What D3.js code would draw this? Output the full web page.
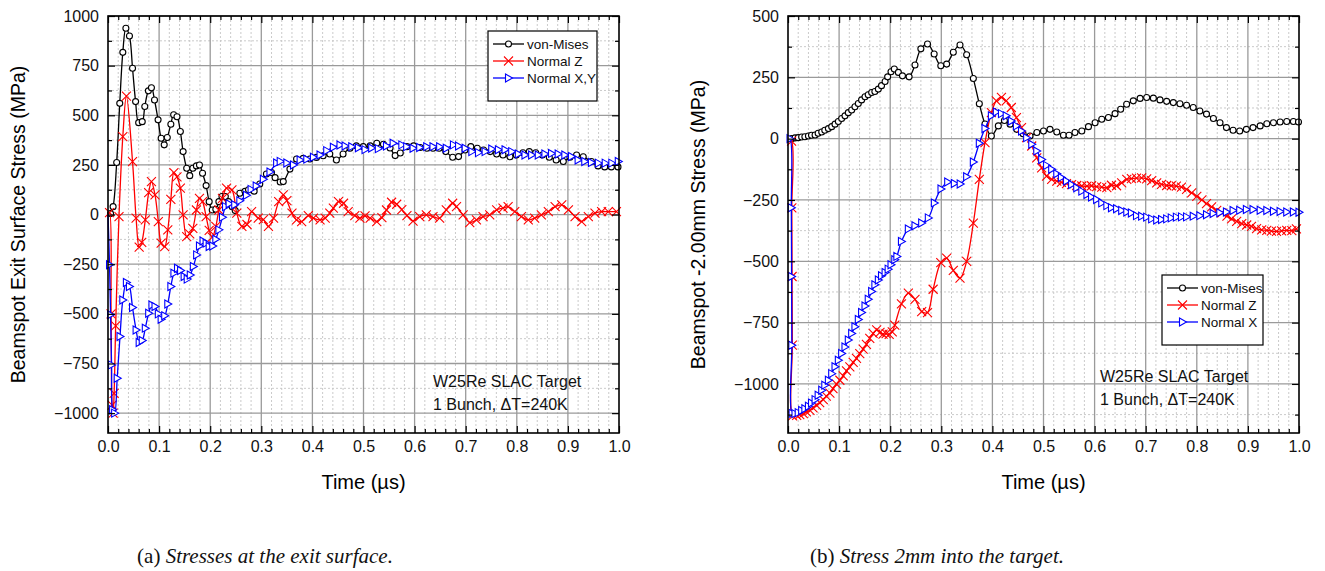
<!DOCTYPE html>
<html>
<head>
<meta charset="utf-8">
<script src="https://cdn.jsdelivr.net/npm/d3@7"></script>
<style>
  body { margin: 0; background: #fff; }
  svg { display: block; }
</style>
</head>
<body>
<svg id="fig" width="1325" height="571"></svg>
<script>
// ---- data: [time in us, stress in MPa] ----
const xTicks = [0, 0.1, 0.2, 0.3, 0.4, 0.5, 0.6, 0.7, 0.8, 0.9, 1.0];
const leftYTicks = [-1000, -750, -500, -250, 0, 250, 500, 750, 1000];
const rightYTicks = [-1000, -750, -500, -250, 0, 250, 500];

const leftVonMises = [[0,0],[0.005,5],[0.010,40],[0.017,262],[0.023,560],[0.029,817],[0.035,938],[0.042,899],[0.048,737],[0.054,569],[0.060,463],[0.067,468],[0.072,544],[0.079,623],[0.085,639],[0.091,577],[0.098,477],[0.104,384],[0.110,351],[0.116,388],[0.123,455],[0.1285,503],[0.135,493],[0.1416,418],[0.147,317],[0.154,233],[0.160,196],[0.166,233],[0.173,245],[0.179,250],[0.185,208],[0.192,146],[0.198,65],[0.204,23],[0.211,27],[0.217,65],[0.223,91],[0.2296,91],[0.236,65],[0.243,40],[0.249,20],[0.258,107],[0.268,117],[0.275,125],[0.286,118],[0.297,154],[0.310,204],[0.320,212],[0.327,186],[0.337,164],[0.343,166],[0.356,229],[0.369,280],[0.382,283],[0.395,280],[0.408,288],[0.421,296],[0.434,305],[0.447,275],[0.460,305],[0.4735,334],[0.486,346],[0.4995,342],[0.513,346],[0.526,359],[0.539,354],[0.552,335],[0.562,297],[0.572,310],[0.585,342],[0.598,346],[0.611,338],[0.624,334],[0.636,334],[0.648,334],[0.661,317],[0.6745,289],[0.686,292],[0.6986,325],[0.71,342],[0.7227,334],[0.735,325],[0.748,317],[0.7606,305],[0.773,300],[0.7867,291],[0.799,300],[0.812,311],[0.8245,317],[0.837,311],[0.85,300],[0.8636,289],[0.877,275],[0.891,267],[0.904,289],[0.917,300],[0.930,291],[0.946,267],[0.959,245],[0.972,240],[0.985,240],[0.998,240]];

const leftNormalZ = [[0,0],[0.003,10],[0.006,-500],[0.008,-960],[0.010,-1000],[0.012,-900],[0.015,-560],[0.0215,-10],[0.029,393],[0.036,597],[0.048,267],[0.055,-18],[0.061,-164],[0.066,-140],[0.073,-27],[0.0796,111],[0.085,166],[0.092,99],[0.0985,-35],[0.104,-144],[0.111,-161],[0.117,-77],[0.123,77],[0.129,211],[0.135,190],[0.1416,133],[0.147,-2],[0.154,-111],[0.160,-97],[0.166,-69],[0.173,23],[0.179,82],[0.185,65],[0.192,-10],[0.198,-80],[0.204,-114],[0.211,-60],[0.217,23],[0.224,82],[0.232,133],[0.2425,124],[0.252,7],[0.262,-60],[0.272,-50],[0.281,15],[0.294,-18],[0.304,-25],[0.314,-60],[0.324,-18],[0.334,65],[0.343,99],[0.350,70],[0.36,7],[0.369,-27],[0.379,-35],[0.392,-5],[0.402,-18],[0.415,-27],[0.425,-18],[0.434,7],[0.441,32],[0.451,65],[0.461,57],[0.470,15],[0.483,-5],[0.493,-18],[0.503,-7],[0.513,-18],[0.526,-35],[0.536,-15],[0.545,23],[0.555,62],[0.565,52],[0.575,25],[0.585,-5],[0.597,-33],[0.610,-10],[0.623,-2],[0.636,-10],[0.649,-18],[0.662,24],[0.6745,57],[0.682,40],[0.695,-2],[0.708,-40],[0.721,-27],[0.734,-10],[0.747,-2],[0.7606,24],[0.773,32],[0.783,40],[0.796,15],[0.809,-10],[0.8225,-27],[0.835,-18],[0.848,-2],[0.8617,15],[0.875,40],[0.888,49],[0.901,24],[0.914,-10],[0.927,-35],[0.940,-10],[0.953,7],[0.966,15],[0.979,15],[0.995,15]];

const leftNormalXY = [[0,0],[0.003,-253],[0.005,-505],[0.007,-757],[0.009,-983],[0.013,-1000],[0.018,-824],[0.0235,-614],[0.029,-430],[0.036,-342],[0.042,-362],[0.048,-468],[0.055,-581],[0.061,-644],[0.067,-634],[0.073,-572],[0.0796,-497],[0.086,-455],[0.092,-463],[0.0985,-500],[0.104,-527],[0.111,-510],[0.117,-450],[0.123,-362],[0.129,-295],[0.136,-270],[0.142,-282],[0.149,-312],[0.155,-325],[0.161,-304],[0.167,-262],[0.1735,-203],[0.179,-158],[0.186,-133],[0.192,-144],[0.198,-161],[0.205,-158],[0.211,-124],[0.217,-77],[0.224,-13],[0.230,40],[0.237,54],[0.248,49],[0.258,70],[0.271,97],[0.280,127],[0.290,144],[0.304,178],[0.317,214],[0.330,260],[0.337,268],[0.350,260],[0.363,250],[0.376,275],[0.389,279],[0.402,289],[0.415,300],[0.428,322],[0.441,339],[0.454,350],[0.464,345],[0.477,342],[0.490,336],[0.503,327],[0.516,335],[0.529,332],[0.545,345],[0.558,359],[0.575,351],[0.5845,342],[0.597,334],[0.610,338],[0.6237,342],[0.636,342],[0.649,342],[0.662,334],[0.676,351],[0.686,345],[0.699,334],[0.712,317],[0.725,312],[0.738,317],[0.751,330],[0.764,326],[0.777,326],[0.790,317],[0.803,305],[0.816,300],[0.829,300],[0.842,300],[0.855,305],[0.868,308],[0.881,305],[0.894,300],[0.907,292],[0.920,275],[0.933,267],[0.946,262],[0.9596,259],[0.973,259],[0.986,259],[0.9986,267]];

const rightVonMises = [[0,0],[0.007,0],[0.0137,3],[0.020,4],[0.0267,7],[0.033,8],[0.040,11],[0.046,14],[0.053,15],[0.059,22],[0.066,27],[0.072,34],[0.079,41],[0.0855,49],[0.092,59],[0.0985,70],[0.105,82],[0.1115,93],[0.118,106],[0.1246,117],[0.131,130],[0.1376,143],[0.144,158],[0.1507,171],[0.157,179],[0.1637,188],[0.170,192],[0.1768,202],[0.183,216],[0.190,233],[0.195,252],[0.2016,273],[0.208,284],[0.216,270],[0.224,256],[0.237,252],[0.2485,300],[0.260,366],[0.273,386],[0.286,345],[0.299,297],[0.3105,304],[0.3235,352],[0.3366,382],[0.3496,342],[0.3627,245],[0.3744,142],[0.3855,60],[0.398,11],[0.4116,52],[0.4235,74],[0.4346,59],[0.4475,38],[0.460,20],[0.4736,11],[0.487,25],[0.50,31],[0.5127,38],[0.526,27],[0.539,14],[0.550,14],[0.5616,25],[0.575,31],[0.588,49],[0.601,65],[0.614,79],[0.627,86],[0.640,102],[0.651,120],[0.6627,140],[0.6757,154],[0.689,164],[0.7019,168],[0.715,165],[0.728,158],[0.741,152],[0.754,147],[0.767,142],[0.780,136],[0.793,127],[0.806,113],[0.819,100],[0.8325,82],[0.8454,65],[0.858,45],[0.871,34],[0.884,31],[0.897,38],[0.910,45],[0.924,52],[0.937,61],[0.950,65],[0.963,68],[0.976,70],[0.989,70],[0.999,68]];

const rightNormalZ = [[0,0],[0.007,-10],[0.0075,-282],[0.008,-562],[0.0085,-842],[0.009,-1130],[0.017,-1128],[0.023,-1125],[0.030,-1121],[0.036,-1114],[0.043,-1108],[0.049,-1098],[0.056,-1087],[0.062,-1076],[0.069,-1064],[0.075,-1050],[0.082,-1037],[0.088,-1019],[0.095,-1001],[0.1015,-985],[0.108,-967],[0.1145,-947],[0.121,-930],[0.1275,-912],[0.134,-896],[0.1405,-876],[0.147,-858],[0.1535,-839],[0.160,-814],[0.1665,-794],[0.1735,-780],[0.18,-790],[0.186,-797],[0.192,-795],[0.198,-798],[0.204,-788],[0.209,-760],[0.222,-674],[0.2355,-630],[0.2485,-655],[0.2616,-705],[0.273,-709],[0.284,-614],[0.299,-505],[0.3105,-487],[0.3235,-537],[0.3366,-569],[0.3496,-500],[0.3627,-344],[0.3744,-166],[0.3855,-16],[0.398,106],[0.4077,154],[0.4177,168],[0.427,154],[0.437,127],[0.447,86],[0.457,45],[0.467,4],[0.477,-30],[0.4868,-78],[0.4964,-119],[0.506,-153],[0.516,-166],[0.526,-173],[0.535,-178],[0.545,-183],[0.555,-187],[0.565,-191],[0.575,-193],[0.585,-194],[0.594,-192],[0.604,-196],[0.614,-198],[0.624,-200],[0.633,-190],[0.643,-192],[0.653,-180],[0.663,-166],[0.672,-163],[0.682,-161],[0.692,-160],[0.7019,-164],[0.7117,-171],[0.7215,-180],[0.731,-186],[0.741,-191],[0.750,-192],[0.760,-194],[0.770,-198],[0.780,-207],[0.790,-221],[0.800,-235],[0.810,-250],[0.819,-265],[0.829,-278],[0.839,-292],[0.849,-303],[0.859,-316],[0.868,-327],[0.878,-337],[0.888,-346],[0.8977,-352],[0.907,-358],[0.917,-367],[0.927,-372],[0.937,-374],[0.946,-377],[0.956,-378],[0.966,-376],[0.976,-374],[0.986,-375],[0.995,-368]];

const rightNormalX = [[0,0],[0.004,0],[0.0065,-282],[0.007,-562],[0.0075,-842],[0.008,-1120],[0.0137,-1121],[0.020,-1117],[0.0267,-1108],[0.033,-1101],[0.040,-1091],[0.046,-1078],[0.053,-1064],[0.059,-1046],[0.066,-1026],[0.072,-1005],[0.079,-985],[0.0855,-958],[0.092,-930],[0.0985,-903],[0.105,-876],[0.1115,-849],[0.118,-821],[0.1246,-794],[0.131,-767],[0.1376,-737],[0.144,-709],[0.1507,-682],[0.157,-655],[0.1637,-623],[0.170,-596],[0.1768,-576],[0.183,-559],[0.190,-546],[0.196,-532],[0.2016,-514],[0.209,-494],[0.213,-480],[0.222,-419],[0.2355,-368],[0.2485,-355],[0.2616,-344],[0.2746,-323],[0.2864,-262],[0.2994,-205],[0.3125,-177],[0.3255,-183],[0.337,-185],[0.3496,-155],[0.3627,-95],[0.3744,-19],[0.3855,41],[0.398,93],[0.4077,109],[0.4177,102],[0.427,93],[0.437,72],[0.447,52],[0.457,31],[0.467,4],[0.477,-23],[0.4868,-50],[0.4964,-85],[0.506,-109],[0.516,-125],[0.526,-143],[0.535,-158],[0.545,-173],[0.555,-187],[0.565,-200],[0.575,-214],[0.585,-228],[0.594,-238],[0.604,-248],[0.614,-262],[0.624,-273],[0.633,-282],[0.643,-286],[0.653,-293],[0.663,-299],[0.672,-303],[0.682,-314],[0.692,-316],[0.7019,-320],[0.7117,-327],[0.7215,-332],[0.731,-330],[0.741,-327],[0.750,-323],[0.760,-320],[0.770,-319],[0.780,-319],[0.793,-316],[0.806,-314],[0.819,-310],[0.832,-305],[0.845,-302],[0.858,-299],[0.871,-293],[0.884,-292],[0.897,-289],[0.910,-289],[0.924,-292],[0.937,-293],[0.950,-296],[0.963,-297],[0.976,-299],[0.989,-299],[1.0,-300]];

const sans = "'Liberation Sans', Arial, sans-serif";
const svg = d3.select("#fig");

function marker(sel, kind, color) {
  if (kind === "circle") {
    sel.append("circle").attr("r", 3).attr("fill", "#fff")
      .attr("stroke", color).attr("stroke-width", 1.1);
  } else if (kind === "cross") {
    sel.append("path").attr("d", "M-4.5,-4.5L4.5,4.5M-4.5,4.5L4.5,-4.5")
      .attr("stroke", color).attr("stroke-width", 1.1).attr("fill", "none");
  } else {
    sel.append("path").attr("d", "M-3,-4L4,0L-3,4Z").attr("fill", "#fff")
      .attr("stroke", color).attr("stroke-width", 1.1);
  }
}

function drawPanel(cfg) {
  const top = 16, bottom = 433;
  const x = d3.scaleLinear().domain([0, 1]).range([cfg.left, cfg.left + 511]);
  const y = d3.scaleLinear().domain(cfg.yDomain).range([bottom, top]);
  const g = svg.append("g");

  const xMinor = d3.range(1, 50).filter(i => i % 5 !== 0).map(i => i / 50);
  const yMinor = d3.range(Math.ceil(cfg.yDomain[0] / 125), Math.floor(cfg.yDomain[1] / 125) + 1)
    .map(i => i * 125).filter(v => v % 250 !== 0);
  const yMajor = cfg.yTicks;

  // dashed minor grid
  g.selectAll(".vminor").data(xMinor).join("line")
    .attr("x1", d => x(d)).attr("x2", d => x(d)).attr("y1", top).attr("y2", bottom)
    .attr("stroke", "#c4c4c4").attr("stroke-dasharray", "2,2").attr("stroke-width", 0.9);
  g.selectAll(".hminor").data(yMinor).join("line")
    .attr("x1", x(0)).attr("x2", x(1)).attr("y1", d => y(d)).attr("y2", d => y(d))
    .attr("stroke", "#c4c4c4").attr("stroke-dasharray", "2,2").attr("stroke-width", 0.9);
  // solid major grid
  g.selectAll(".vmajor").data(xTicks.slice(1, -1)).join("line")
    .attr("x1", d => x(d)).attr("x2", d => x(d)).attr("y1", top).attr("y2", bottom)
    .attr("stroke", "#9a9a9a").attr("stroke-width", 1.3);
  g.selectAll(".hmajor").data(yMajor).join("line")
    .attr("x1", x(0)).attr("x2", x(1)).attr("y1", d => y(d)).attr("y2", d => y(d))
    .attr("stroke", "#9a9a9a").attr("stroke-width", 1.3);

  // series
  const line = d3.line().x(d => x(d[0])).y(d => y(d[1])).curve(d3.curveCatmullRom.alpha(0.5));
  cfg.series.forEach(s => {
    g.append("path").datum(s.data).attr("d", line)
      .attr("fill", "none").attr("stroke", s.color).attr("stroke-width", 1.3);
    g.selectAll(null).data(s.data.slice(1)).join("g")
      .attr("transform", d => `translate(${x(d[0])},${y(d[1])})`)
      .each(function () { marker(d3.select(this), s.kind, s.color); });
  });

  // axes, ticks pointing inward on all four sides
  const fmt = d3.format(".1f");
  const styleAxis = a => {
    a.select(".domain").remove();
    a.selectAll("line").attr("stroke", "#000").attr("stroke-width", 1.2);
    a.selectAll("text").attr("font-family", sans).attr("font-size", 16).attr("fill", "#111");
  };
  g.append("g").attr("transform", `translate(0,${bottom})`)
    .call(d3.axisBottom(x).tickValues(xTicks).tickFormat(fmt).tickSize(-7).tickPadding(8)).call(styleAxis);
  g.append("g").attr("transform", `translate(0,${bottom})`)
    .call(d3.axisBottom(x).tickValues(xMinor).tickFormat("").tickSize(-4)).call(styleAxis);
  g.append("g").attr("transform", `translate(0,${top})`)
    .call(d3.axisTop(x).tickValues(xTicks).tickFormat("").tickSize(-7)).call(styleAxis);
  g.append("g").attr("transform", `translate(0,${top})`)
    .call(d3.axisTop(x).tickValues(xMinor).tickFormat("").tickSize(-4)).call(styleAxis);
  g.append("g").attr("transform", `translate(${x(0)},0)`)
    .call(d3.axisLeft(y).tickValues(yMajor).tickFormat(d3.format("d")).tickSize(-7).tickPadding(9)).call(styleAxis);
  g.append("g").attr("transform", `translate(${x(0)},0)`)
    .call(d3.axisLeft(y).tickValues(yMinor).tickFormat("").tickSize(-4)).call(styleAxis);
  g.append("g").attr("transform", `translate(${x(1)},0)`)
    .call(d3.axisRight(y).tickValues(yMajor).tickFormat("").tickSize(-7)).call(styleAxis);
  g.append("g").attr("transform", `translate(${x(1)},0)`)
    .call(d3.axisRight(y).tickValues(yMinor).tickFormat("").tickSize(-4)).call(styleAxis);

  g.append("rect").attr("x", x(0)).attr("y", top).attr("width", x(1) - x(0)).attr("height", bottom - top)
    .attr("fill", "none").attr("stroke", "#000").attr("stroke-width", 1.6);

  // axis titles
  g.append("text").attr("x", (x(0) + x(1)) / 2).attr("y", 489).attr("text-anchor", "middle")
    .attr("font-family", sans).attr("font-size", 20).text("Time (\u00b5s)");
  g.append("text").attr("transform", `translate(${cfg.left - 83},${(top + bottom) / 2}) rotate(-90)`)
    .attr("text-anchor", "middle").attr("font-family", sans).attr("font-size", 19.5).text(cfg.yLabel);

  // legend
  const lg = g.append("g").attr("transform", `translate(${cfg.legend[0]},${cfg.legend[1]})`);
  lg.append("rect").attr("width", cfg.legend[2]).attr("height", 70)
    .attr("fill", "#fff").attr("stroke", "#000").attr("stroke-width", 1.2);
  cfg.series.forEach((s, i) => {
    const row = lg.append("g").attr("transform", `translate(5,${13 + i * 17})`);
    row.append("line").attr("x1", 0).attr("x2", 31).attr("stroke", s.color).attr("stroke-width", 1.3);
    marker(row.append("g").attr("transform", "translate(15.5,0)"), s.kind, s.color);
    row.append("text").attr("x", 34).attr("y", 4.5).attr("font-family", sans)
      .attr("font-size", 13.5).attr("fill", "#111").text(s.name);
  });

  // annotation
  const note = g.append("g").attr("font-family", sans).attr("font-size", 16).attr("fill", "#111");
  note.append("text").attr("x", cfg.note[0]).attr("y", cfg.note[1]).text("W25Re SLAC Target");
  note.append("text").attr("x", cfg.note[0]).attr("y", cfg.note[1] + 23).text("1 Bunch, \u0394T=240K");

  // caption
  const cap = g.append("text").attr("x", cfg.caption[0]).attr("y", cfg.caption[1])
    .attr("text-anchor", "middle").attr("font-family", "'Liberation Serif', 'DejaVu Serif', serif")
    .attr("font-size", 21).attr("fill", "#111");
  cap.append("tspan").text(cfg.captionTag + " ");
  cap.append("tspan").attr("font-style", "italic").text(cfg.captionText);
}

drawPanel({
  left: 108,
  yDomain: [-1100, 1000],
  yTicks: leftYTicks,
  yLabel: "Beamspot Exit Surface Stress (MPa)",
  series: [
    { name: "von-Mises", data: leftVonMises, color: "#000", kind: "circle" },
    { name: "Normal Z", data: leftNormalZ, color: "#ff0000", kind: "cross" },
    { name: "Normal X,Y", data: leftNormalXY, color: "#0000ff", kind: "tri" }
  ],
  legend: [488, 31, 109],
  note: [433, 387],
  caption: [265, 563],
  captionTag: "(a)",
  captionText: "Stresses at the exit surface."
});

drawPanel({
  left: 788,
  yDomain: [-1200, 500],
  yTicks: rightYTicks,
  yLabel: "Beamspot -2.00mm Stress (MPa)",
  series: [
    { name: "von-Mises", data: rightVonMises, color: "#000", kind: "circle" },
    { name: "Normal Z", data: rightNormalZ, color: "#ff0000", kind: "cross" },
    { name: "Normal X", data: rightNormalX, color: "#0000ff", kind: "tri" }
  ],
  legend: [1162, 275, 101],
  note: [1100, 382],
  caption: [937, 563],
  captionTag: "(b)",
  captionText: "Stress 2mm into the target."
});
</script>
</body>
</html>
